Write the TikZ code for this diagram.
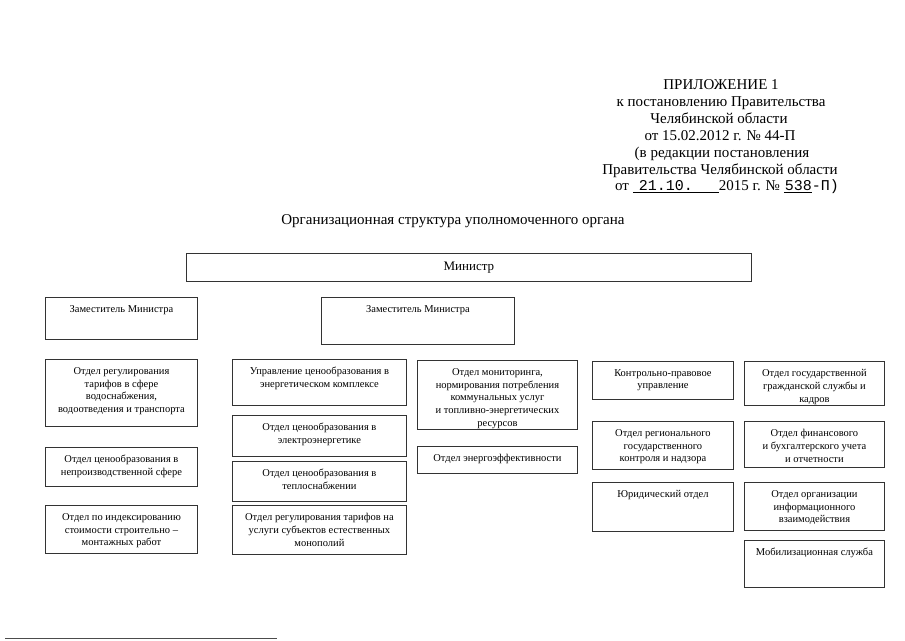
\documentclass[tikz,border=0pt]{standalone}
\usepackage{fontspec}
\setmainfont{Liberation Serif}
\setmonofont{Liberation Mono}
\tikzset{
  orgframe/.style={draw=black!80, line width=0.9pt, inner sep=0pt, anchor=north west},
  orgtext/.style={font=\fontsize{10.5}{12.9}\selectfont, align=center, anchor=north, inner sep=0pt},
  headline/.style={font=\fontsize{15}{17}\selectfont, anchor=base, inner sep=0pt},
}
% #1 name, #2 x1, #3 y1, #4 x2, #5 y2, #6 text
\newcommand\orgbox[6]{%
  \node[orgframe, minimum width={#4-#2}, minimum height={#5-#3}] (#1) at (#2,#3) {};
  \node[orgtext] (#1t) at ([yshift=-8pt]#1.north) {#6};}
\begin{document}
\begin{tikzpicture}[x=1pt,y=-1pt]
\useasboundingbox (0,0) rectangle (905,640);
% header
\node[headline] (h1) at (721,89.5) {ПРИЛОЖЕНИЕ 1};
\node[headline] (h2) at (721,106.4) {к постановлению Правительства};
\node[headline] (h3) at (719,123.3) {Челябинской области};
\node[headline] (h4) at (720,140.2) {от 15.02.2012 г. № 44-П};
\node[headline] (h5) at (722,157.1) {(в редакции постановления};
\node[headline] (h6) at (720,174) {Правительства Челябинской области};
\node[headline] (h7) at (727,190.9) {от \underline{\hspace{6pt}\texttt{21.10.}\hspace{26pt}}2015 г. № \underline{\hspace{1pt}\texttt{538}}\texttt{-П)}};
\node[headline] (title) at (453,224) {Организационная структура уполномоченного органа};
% minister
\node[orgframe, minimum width={751-186}, minimum height={281-253}] (min) at (186,253) {};
\node[font=\fontsize{13}{15}\selectfont, inner sep=0pt] (mint) at (min.center) {Министр};
% deputies
\orgbox{zam1}{45}{297}{197}{339}{Заместитель Министра}
\orgbox{zam2}{321}{297}{514}{344}{Заместитель Министра}
% column 1
\orgbox{c1a}{45}{359}{197}{426}{Отдел регулирования\\тарифов в сфере\\водоснабжения,\\водоотведения и транспорта}
\orgbox{c1b}{45}{447}{197}{486}{Отдел ценообразования в\\непроизводственной сфере}
\orgbox{c1c}{45}{505}{197}{553}{Отдел по индексированию\\стоимости строительно –\\монтажных работ}
% column 2
\orgbox{c2a}{232}{359}{406}{405}{Управление ценообразования в\\энергетическом комплексе}
\orgbox{c2b}{232}{415}{406}{456}{Отдел ценообразования в\\электроэнергетике}
\orgbox{c2c}{232}{461}{406}{501}{Отдел ценообразования в\\теплоснабжении}
\orgbox{c2d}{232}{505}{406}{554}{Отдел регулирования тарифов на\\услуги субъектов естественных\\монополий}
% column 3
\orgbox{c3a}{417}{360}{577}{429}{Отдел мониторинга,\\нормирования потребления\\коммунальных услуг\\и топливно-энергетических\\ресурсов}
\orgbox{c3b}{417}{446}{577}{473}{Отдел энергоэффективности}
% column 4
\orgbox{c4a}{592}{361}{733}{399}{Контрольно-правовое\\управление}
\orgbox{c4b}{592}{421}{733}{469}{Отдел регионального\\государственного\\контроля и надзора}
\orgbox{c4c}{592}{482}{733}{531}{Юридический отдел}
% column 5
\orgbox{c5a}{744}{361}{884}{405}{Отдел государственной\\гражданской службы и\\кадров}
\orgbox{c5b}{744}{421}{884}{467}{Отдел финансового\\и бухгалтерского учета\\и отчетности}
\orgbox{c5c}{744}{482}{884}{530}{Отдел организации\\информационного\\взаимодействия}
\orgbox{c5d}{744}{540}{884}{587}{Мобилизационная служба}
% footnote rule
\coordinate (fl) at (5,638.5);
\coordinate (fr) at (277,638.5);
\draw[black!70, line width=1pt] (fl) -- (fr);
\end{tikzpicture}
\end{document}
